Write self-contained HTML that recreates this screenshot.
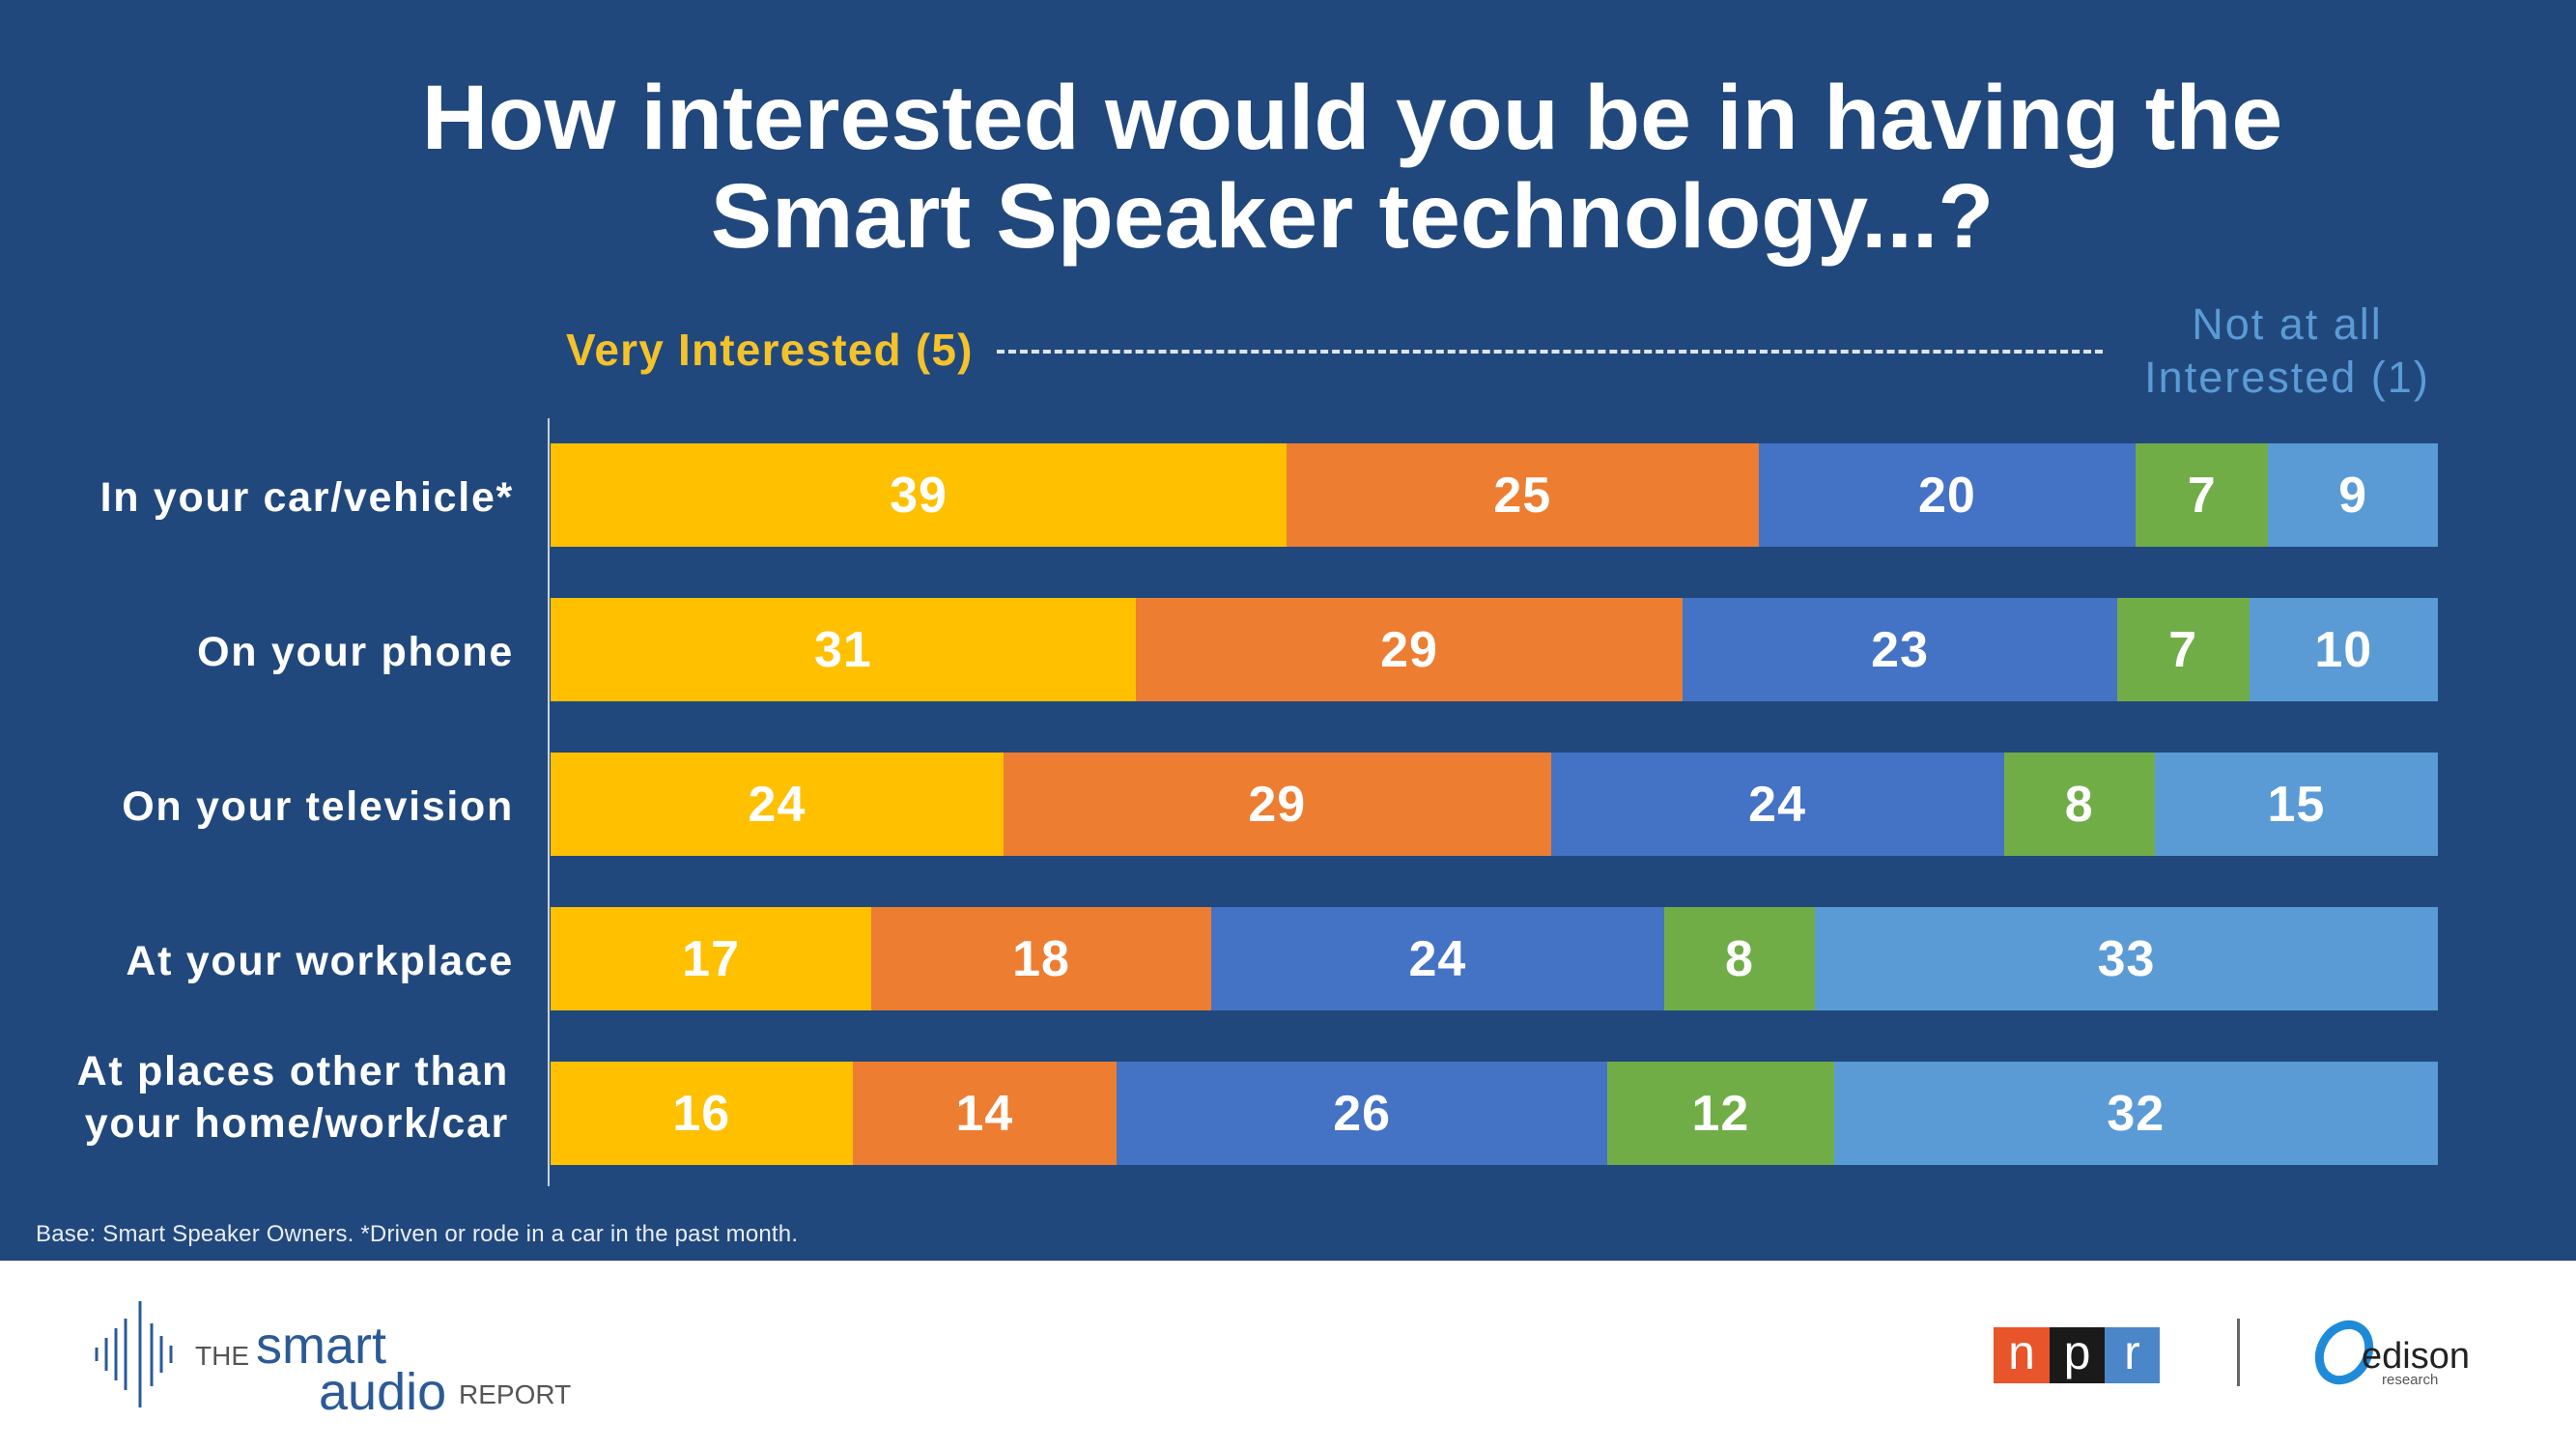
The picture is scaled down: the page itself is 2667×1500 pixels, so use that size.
<!DOCTYPE html>
<html><head><meta charset="utf-8"><style>
*{margin:0;padding:0;box-sizing:border-box}
body{width:2667px;height:1500px;overflow:hidden;background:#fff;font-family:"Liberation Sans",sans-serif;position:relative}
#bg{position:absolute;left:0;top:0;width:2667px;height:1305px;background:#21487c}
.t{position:absolute;color:#fff;font-weight:bold;white-space:nowrap}
.title{left:0;width:2800px;text-align:center;font-size:95px;}
.lab{right:2135px;font-size:43px;text-align:right;line-height:54px;letter-spacing:1.7px}
.row{position:absolute;left:570px;width:1954px;height:107px;display:flex}
.row div{height:100%;display:flex;align-items:center;justify-content:center;color:#fff;font-weight:bold;font-size:52px;letter-spacing:1px}
.y{background:#ffc000}.o{background:#ed7d31}.b{background:#4472c4}.g{background:#70ad47}.l{background:#5b9bd5}
</style></head><body>
<div id="bg"></div>
<div class="t title" style="top:68px">How interested would you be in having the</div>
<div class="t title" style="top:170px">Smart Speaker technology...?</div>
<div class="t" style="left:586px;top:335px;font-size:46px;color:#f4c22b;letter-spacing:1.2px">Very Interested (5)</div>
<div style="position:absolute;left:1032px;top:362px;width:1145px;border-top:4px dashed #dde4f0"></div>
<div class="t" style="left:2168px;width:400px;text-align:center;top:308px;font-size:45px;color:#5b9bd5;font-weight:normal;line-height:55px;letter-spacing:2px">Not at all<br>Interested (1)</div>
<div style="position:absolute;left:567px;top:433px;width:2px;height:795px;background:#c8d0de"></div>
<div class="t lab" style="top:488px">In your car/vehicle*</div>
<div class="t lab" style="top:648px">On your phone</div>
<div class="t lab" style="top:808px">On your television</div>
<div class="t lab" style="top:968px">At your workplace</div>
<div class="t lab" style="top:1082px;right:2140px">At places other than<br>your home/work/car</div>
<div class="row" style="top:459px"><div class="y" style="width:39%">39</div><div class="o" style="width:25%">25</div><div class="b" style="width:20%">20</div><div class="g" style="width:7%">7</div><div class="l" style="width:9%">9</div></div>
<div class="row" style="top:619px"><div class="y" style="width:31%">31</div><div class="o" style="width:29%">29</div><div class="b" style="width:23%">23</div><div class="g" style="width:7%">7</div><div class="l" style="width:10%">10</div></div>
<div class="row" style="top:779px"><div class="y" style="width:24%">24</div><div class="o" style="width:29%">29</div><div class="b" style="width:24%">24</div><div class="g" style="width:8%">8</div><div class="l" style="width:15%">15</div></div>
<div class="row" style="top:939px"><div class="y" style="width:17%">17</div><div class="o" style="width:18%">18</div><div class="b" style="width:24%">24</div><div class="g" style="width:8%">8</div><div class="l" style="width:33%">33</div></div>
<div class="row" style="top:1099px"><div class="y" style="width:16%">16</div><div class="o" style="width:14%">14</div><div class="b" style="width:26%">26</div><div class="g" style="width:12%">12</div><div class="l" style="width:32%">32</div></div>
<div class="t" style="left:37px;top:1264px;font-size:24px;font-weight:normal;color:#e8edf5;letter-spacing:0.2px">Base: Smart Speaker Owners. *Driven or rode in a car in the past month.</div>
<svg style="position:absolute;left:95px;top:1345px" width="100" height="115">
<g stroke="#2b5a97" stroke-width="3"><line x1="5" y1="50" x2="5" y2="64"/><line x1="15" y1="40" x2="15" y2="74"/><line x1="25" y1="30" x2="25" y2="84"/><line x1="35" y1="20" x2="35" y2="94"/><line x1="50" y1="2" x2="50" y2="112"/><line x1="62" y1="25" x2="62" y2="90"/><line x1="72" y1="38" x2="72" y2="76"/><line x1="82" y1="48" x2="82" y2="66"/></g></svg>
<div class="t" style="left:202px;top:1388px;font-size:28px;color:#555;font-weight:normal">THE</div>
<div class="t" style="left:265px;top:1362px;font-size:54px;color:#2b5a97;font-weight:normal">smart</div>
<div class="t" style="left:330px;top:1410px;font-size:54px;color:#2b5a97;font-weight:normal">audio</div>
<div class="t" style="left:475px;top:1428px;font-size:28px;color:#555;font-weight:normal">REPORT</div>
<div style="position:absolute;left:2064px;top:1374px;width:58px;height:58px;background:#e8552a;color:#fff;font-size:50px;text-align:center;line-height:52px">n</div>
<div style="position:absolute;left:2122px;top:1374px;width:57px;height:58px;background:#1a1a1a;color:#fff;font-size:50px;text-align:center;line-height:52px">p</div>
<div style="position:absolute;left:2179px;top:1374px;width:57px;height:58px;background:#4a86c8;color:#fff;font-size:50px;text-align:center;line-height:52px">r</div>
<div style="position:absolute;left:2316px;top:1365px;width:3px;height:70px;background:#666"></div>
<svg style="position:absolute;left:2395px;top:1362px" width="70" height="80"><ellipse cx="32" cy="38" rx="24" ry="30" fill="none" stroke="#1f8ad8" stroke-width="9" transform="rotate(30 32 38)"/></svg>
<div class="t" style="left:2445px;top:1383px;font-size:38px;color:#222;font-weight:normal">edison</div>
<div class="t" style="left:2466px;top:1420px;font-size:15px;color:#555;font-weight:normal">research</div>
</body></html>
